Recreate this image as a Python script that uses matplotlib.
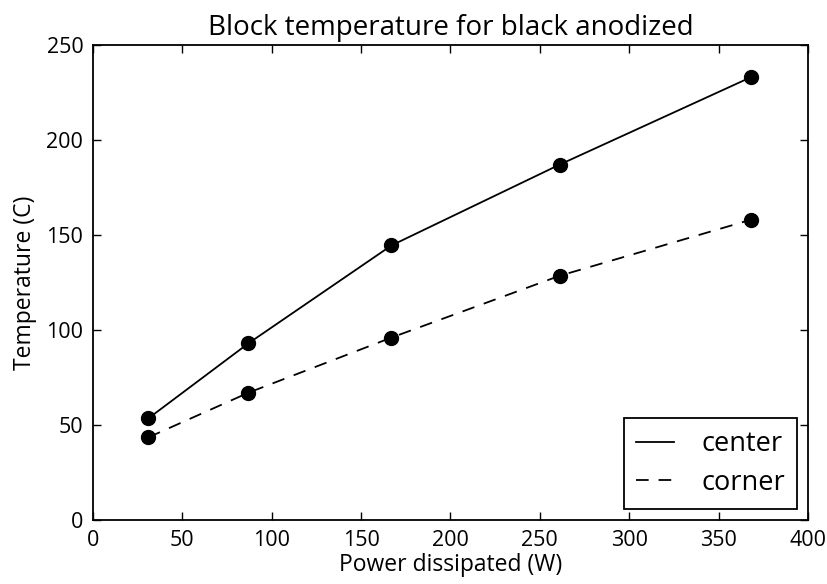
import matplotlib
matplotlib.use("Agg")
import matplotlib.pyplot as plt

power = [31, 87, 167, 261, 368]
center = [53.5, 93, 144.5, 187, 233]
corner = [43.5, 67, 96, 128.5, 158]

plt.rcParams['font.family'] = ['Open Sans', 'DejaVu Sans']

fig = plt.figure(figsize=(8.28, 5.84), dpi=100)
ax = fig.add_axes([0.1123, 0.1096, 0.8635, 0.8134])

ax.plot(power, center, 'k-', lw=1.3, label='center')
ax.plot(power, corner, 'k--', lw=1.3, dashes=(7, 5.5), label='corner')
ax.plot(power, center, 'ko', ms=10)
ax.plot(power, corner, 'ko', ms=10)

ax.set_xlim(0, 400)
ax.set_ylim(0, 250)
ax.set_xticks(range(0, 401, 50))
ax.set_yticks(range(0, 251, 50))
ax.tick_params(direction='in', top=True, right=True, length=6, width=1, labelsize=15.5, pad=7)
for s in ax.spines.values():
    s.set_linewidth(1.3)

ax.set_title('Block temperature for black anodized', fontsize=20, pad=7)
ax.set_xlabel('Power dissipated (W)', fontsize=16.5, labelpad=2)
ax.set_ylabel('Temperature (C)', fontsize=16.5, labelpad=7)

h, l = ax.get_legend_handles_labels()
leg = ax.legend(h[:2], l[:2], loc='lower right', fontsize=19.5, fancybox=False,
                edgecolor='black', framealpha=1, handlelength=1.4, borderpad=0.45,
                handletextpad=1.0, borderaxespad=0.4, labelspacing=0.4)
leg.get_frame().set_linewidth(1.3)

fig.savefig('out.png', dpi=100)
